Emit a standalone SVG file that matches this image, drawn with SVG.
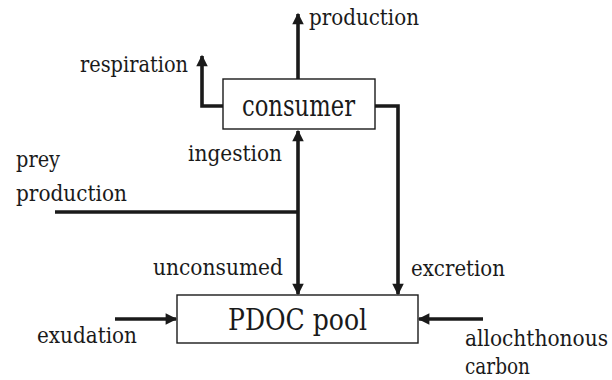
<svg xmlns="http://www.w3.org/2000/svg" width="612" height="380" viewBox="0 0 612 380">
  <defs>
    <marker id="arrow" viewBox="0 0 10 10" refX="9" refY="5" markerWidth="3.4" markerHeight="3.2" markerUnits="strokeWidth" orient="auto-start-reverse">
      <path d="M0,0 L10,5 L0,10 z" fill="#1a1a1a"/>
    </marker>
  </defs>
  <style>
    .box { fill: #ffffff; stroke: #1a1a1a; stroke-width: 1.4; }
    .flow { fill: none; stroke: #1a1a1a; stroke-width: 3.6; stroke-linejoin: miter; }
    text { font-family: 'DejaVu Serif Condensed', 'DejaVu Serif', 'Liberation Serif', serif; font-stretch: condensed; fill: #1a1a1a; }
    .title { font-size: 29px; }
    .label { font-size: 22.5px; }
  </style>

  <rect width="612" height="380" fill="#ffffff"/>

  <!-- flows between the pools -->
  <g id="connectors">
    <!-- consumer to production -->
    <line class="flow" x1="298" y1="79" x2="298" y2="14" marker-end="url(#arrow)"/>
    <!-- consumer to respiration -->
    <polyline class="flow" points="223,106 202,106 202,56" marker-end="url(#arrow)"/>
    <!-- consumer excretion down to PDOC -->
    <polyline class="flow" points="375,106 398,106 398,294" marker-end="url(#arrow)"/>
    <!-- prey production joining the ingestion / unconsumed line -->
    <line class="flow" x1="55" y1="212" x2="298" y2="212"/>
    <!-- ingestion up to consumer, unconsumed down to PDOC -->
    <line class="flow" x1="298" y1="131" x2="298" y2="294" marker-start="url(#arrow)" marker-end="url(#arrow)"/>
    <!-- exudation into PDOC -->
    <line class="flow" x1="115" y1="319" x2="176" y2="319" marker-end="url(#arrow)"/>
    <!-- allochthonous carbon into PDOC -->
    <line class="flow" x1="483" y1="319" x2="419" y2="319" marker-end="url(#arrow)"/>
  </g>

  <g id="consumer">
    <rect class="box" x="223" y="79" width="152" height="50"/>
    <text class="title" x="242" y="116" textLength="113" lengthAdjust="spacingAndGlyphs">consumer</text>
  </g>

  <g id="pdoc-pool">
    <rect class="box" x="177" y="295" width="241" height="48"/>
    <text class="title" x="228" y="330" textLength="139" lengthAdjust="spacingAndGlyphs">PDOC pool</text>
  </g>

  <g id="labels">
    <text class="label" x="309" y="25" textLength="110" lengthAdjust="spacingAndGlyphs">production</text>
    <text class="label" x="80" y="72" textLength="108" lengthAdjust="spacingAndGlyphs">respiration</text>
    <text class="label" x="188" y="161" textLength="94" lengthAdjust="spacingAndGlyphs">ingestion</text>
    <text class="label" x="16" y="167" textLength="44" lengthAdjust="spacingAndGlyphs">prey</text>
    <text class="label" x="16" y="201" textLength="111" lengthAdjust="spacingAndGlyphs">production</text>
    <text class="label" x="153" y="275" textLength="130" lengthAdjust="spacingAndGlyphs">unconsumed</text>
    <text class="label" x="411" y="276" textLength="94" lengthAdjust="spacingAndGlyphs">excretion</text>
    <text class="label" x="37" y="343" textLength="100" lengthAdjust="spacingAndGlyphs">exudation</text>
    <text class="label" x="465" y="346" textLength="143" lengthAdjust="spacingAndGlyphs">allochthonous</text>
    <text class="label" x="465" y="374" textLength="65" lengthAdjust="spacingAndGlyphs">carbon</text>
  </g>
</svg>
